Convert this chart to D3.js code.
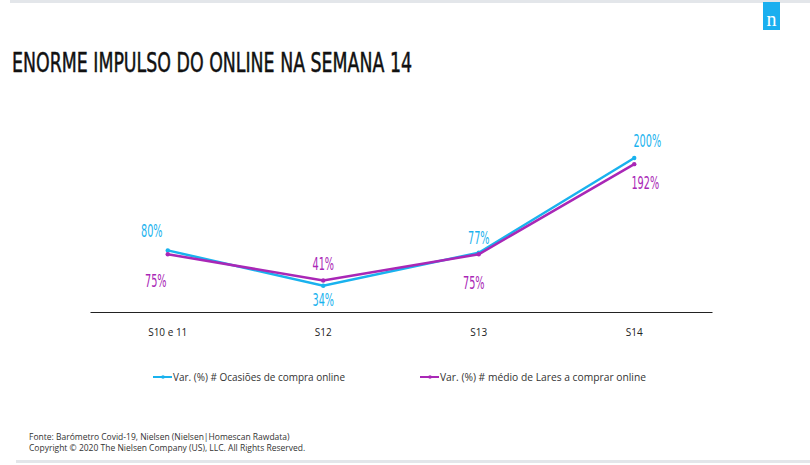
<!DOCTYPE html>
<html><head><meta charset="utf-8">
<script src="https://cdn.jsdelivr.net/npm/d3@7"></script>
<style>body{margin:0;background:#fff}svg{display:block}</style>
</head><body>
<script>
const categories = ["S10 e 11", "S12", "S13", "S14"];
const seriesNames = ["Var. (%) # Ocasiões de compra online", "Var. (%) # médio de Lares a comprar online"];
const ocasioes = [80, 34, 77, 200];
const lares = [75, 41, 75, 192];
const title = "ENORME IMPULSO DO ONLINE NA SEMANA 14";
const footer = ["Fonte: Barómetro Covid-19, Nielsen (Nielsen|Homescan Rawdata)", "Copyright © 2020 The Nielsen Company (US), LLC. All Rights Reserved."];

const W = 810, H = 465;
const blue = "#19B2EE", purple = "#A927B6";
const condensed = "Liberation Sans Narrow, DejaVu Sans Condensed, sans-serif";
const svg = d3.select("body").append("svg").attr("width", W).attr("height", H);

// decorations
svg.append("rect").attr("x", 10).attr("y", 0).attr("width", 800).attr("height", 3).attr("fill", "#e3e6ea");
svg.append("rect").attr("x", 16).attr("y", 460).attr("width", 794).attr("height", 3).attr("fill", "#e3e6ea");
svg.append("rect").attr("x", 763).attr("y", 2).attr("width", 17).attr("height", 28).attr("fill", "#1AAFEF");
svg.append("text").attr("x", 771.5).attr("y", 26).attr("text-anchor", "middle").attr("fill", "#fff")
  .attr("font-family", "Liberation Serif, serif").attr("font-size", 20).text("n");

svg.append("text").attr("transform", "translate(12,72) scale(1,1.32)")
  .attr("font-family", condensed).attr("font-size", 20).attr("fill", "#111")
  .attr("stroke", "#111").attr("stroke-width", 0.35)
  .attr("textLength", 400).attr("lengthAdjust", "spacingAndGlyphs").text(title);

const x = d3.scaleBand().domain(categories).range([90, 712]);
const y = d3.scaleLinear().domain([0, 200]).range([312, 158]);
const cx = c => x(c) + x.bandwidth() / 2;

const axis = svg.append("g").attr("transform", "translate(0,312)")
  .call(d3.axisBottom(x).tickSize(0).tickPadding(17));
axis.select(".domain").attr("stroke", "#222").attr("stroke-width", 1.2);
axis.selectAll("text").attr("font-family", "Open Sans, sans-serif").attr("font-size", 10).attr("fill", "#222");

const line = d3.line().x((d, i) => cx(categories[i])).y(d => y(d));
[[ocasioes, blue], [lares, purple]].forEach(([vals, col]) => {
  svg.append("path").datum(vals).attr("d", line).attr("fill", "none").attr("stroke", col).attr("stroke-width", 2.5);
  svg.selectAll(null).data(vals).enter().append("circle")
    .attr("cx", (d, i) => cx(categories[i])).attr("cy", d => y(d)).attr("r", 2.2).attr("fill", col);
});

// data labels: offsets [dx, dy] relative to point
const blueOff = [[-16, -13], [0, 20], [0, -9], [13, -11]];
const purpOff = [[-12, 33], [0, -10], [-5, 35], [11, 25]];
function labels(vals, offs, col) {
  svg.selectAll(null).data(vals).enter().append("text")
    .attr("transform", (d, i) => `translate(${cx(categories[i]) + offs[i][0]},${y(d) + offs[i][1]}) scale(0.72,1.12)`)
    .attr("text-anchor", "middle")
    .attr("font-family", condensed)
    .attr("font-size", 15).attr("fill", col).text(d => d + "%");
}
labels(ocasioes, blueOff, blue);
labels(lares, purpOff, purple);

// legend
const leg = [[153, blue, seriesNames[0], 172], [420, purple, seriesNames[1], 206]];
leg.forEach(([lx, col, name, len]) => {
  svg.append("line").attr("x1", lx).attr("x2", lx + 19).attr("y1", 377).attr("y2", 377).attr("stroke", col).attr("stroke-width", 2);
  svg.append("circle").attr("cx", lx + 10).attr("cy", 377).attr("r", 1.8).attr("fill", col);
  svg.append("text").attr("x", lx + 20).attr("y", 381).attr("font-family", "Open Sans, sans-serif")
    .attr("font-size", 10.5).attr("fill", "#333")
    .attr("textLength", len).attr("lengthAdjust", "spacingAndGlyphs").text(name);
});

svg.selectAll(null).data(footer).enter().append("text")
  .attr("x", 29).attr("y", (d, i) => 440 + i * 11).attr("font-family", "Open Sans, sans-serif")
  .attr("font-size", 8.5).attr("fill", "#333").text(d => d);
</script>
</body></html>
